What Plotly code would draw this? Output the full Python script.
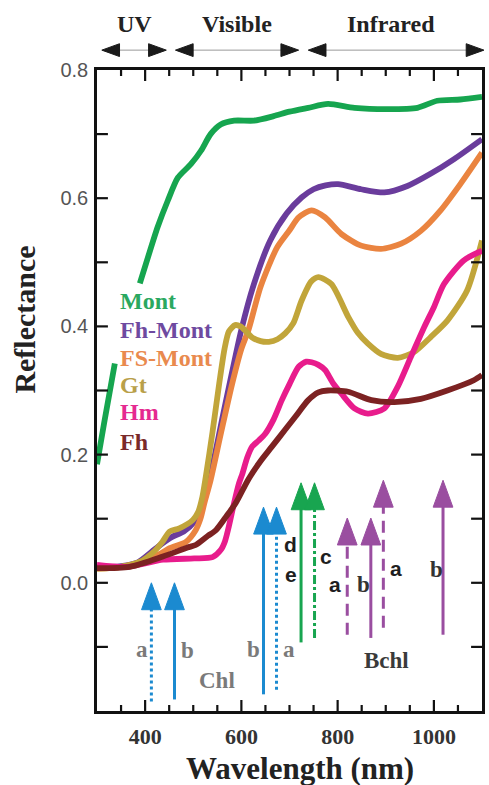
import plotly.graph_objects as go

# ---- Reflectance spectra (wavelength in nm, reflectance) ----
mont_wl = [300, 315, 337, 360, 389, 406, 426, 447, 468, 495, 516, 536, 557, 585, 626, 667, 700, 739, 780, 835, 904, 966, 1007, 1055, 1100]
mont_r = [0.185, 0.25, 0.342, None, 0.467, 0.508, 0.555, 0.596, 0.632, 0.653, 0.674, 0.700, 0.715, 0.721, 0.721, 0.728, 0.735, 0.741, 0.747, 0.741, 0.739, 0.741, 0.752, 0.754, 0.758]

fhmont_wl = [300, 350, 385, 413, 433, 457, 480, 502, 516, 530, 545, 560, 574, 600, 626, 660, 694, 725, 750, 775, 801, 849, 897, 945, 993, 1042, 1100]
fhmont_r = [0.023, 0.026, 0.032, 0.048, 0.060, 0.072, 0.080, 0.095, 0.115, 0.150, 0.200, 0.255, 0.305, 0.395, 0.466, 0.534, 0.576, 0.601, 0.614, 0.620, 0.622, 0.614, 0.609, 0.619, 0.638, 0.661, 0.692]

fsmont_wl = [300, 350, 385, 433, 451, 485, 505, 515, 523, 536, 558, 581, 600, 615, 640, 674, 700, 719, 746, 774, 808, 849, 890, 932, 973, 1014, 1055, 1100]
fsmont_r = [0.022, 0.025, 0.031, 0.046, 0.054, 0.064, 0.082, 0.100, 0.124, 0.160, 0.235, 0.311, 0.365, 0.395, 0.462, 0.523, 0.550, 0.570, 0.581, 0.570, 0.544, 0.526, 0.521, 0.529, 0.549, 0.581, 0.622, 0.671]

gt_wl = [300, 350, 390, 420, 436, 451, 471, 499, 510, 519, 526, 540, 554, 565, 574, 587, 598, 610, 622, 640, 657, 675, 691, 708, 725, 745, 760, 787, 822, 842, 863, 890, 925, 959, 993, 1028, 1069, 1100]
gt_r = [0.022, 0.025, 0.033, 0.050, 0.064, 0.080, 0.085, 0.098, 0.110, 0.134, 0.165, 0.235, 0.311, 0.365, 0.392, 0.402, 0.400, 0.392, 0.383, 0.377, 0.376, 0.380, 0.389, 0.405, 0.440, 0.470, 0.477, 0.466, 0.415, 0.390, 0.373, 0.357, 0.351, 0.360, 0.383, 0.409, 0.456, 0.534]

hm_wl = [300, 364, 437, 502, 540, 557, 566, 574, 585, 595, 602, 612, 622, 636, 650, 667, 684, 700, 719, 735, 746, 760, 774, 790, 808, 835, 863, 897, 925, 952, 980, 1000, 1021, 1062, 1100]
hm_r = [0.028, 0.025, 0.036, 0.038, 0.040, 0.051, 0.065, 0.088, 0.125, 0.155, 0.170, 0.195, 0.212, 0.222, 0.233, 0.255, 0.285, 0.310, 0.337, 0.345, 0.344, 0.340, 0.332, 0.312, 0.295, 0.272, 0.264, 0.272, 0.306, 0.352, 0.399, 0.430, 0.466, 0.503, 0.518]

fh_wl = [300, 368, 437, 488, 505, 530, 547, 570, 588, 615, 640, 663, 690, 712, 739, 760, 780, 822, 870, 918, 973, 1028, 1083, 1100]
fh_r = [0.023, 0.025, 0.041, 0.055, 0.059, 0.073, 0.082, 0.105, 0.124, 0.162, 0.190, 0.212, 0.238, 0.259, 0.285, 0.297, 0.300, 0.298, 0.285, 0.282, 0.287, 0.300, 0.316, 0.324]

series_names = ["Mont", "Fh-Mont", "FS-Mont", "Gt", "Hm", "Fh"]
series_wl = [mont_wl, fhmont_wl, fsmont_wl, gt_wl, hm_wl, fh_wl]
series_r = [mont_r, fhmont_r, fsmont_r, gt_r, hm_r, fh_r]
series_colors = ["#16a54f", "#6a3c9c", "#ea8440", "#c1a53a", "#e81c8c", "#7c2222"]
label_colors = ["#2aa860", "#6e4aa0", "#e98a4e", "#b9a04a", "#e52a90", "#7a2a2a"]
label_y = [0.440, 0.394, 0.350, 0.308, 0.266, 0.219]

# ---- Pigment absorption bands: wavelength, arrow tip, arrow tail ----
band_wl = [413, 461, 646, 673, 724, 752, 820, 869, 895, 1019]
band_tip = [0.0, 0.0, 0.118, 0.118, 0.156, 0.156, 0.101, 0.101, 0.160, 0.160]
band_tail = [-0.185, -0.182, -0.174, -0.167, -0.093, -0.086, -0.081, -0.086, -0.070, -0.081]
band_color = ["#1b8ad0", "#1b8ad0", "#1b8ad0", "#1b8ad0", "#18a550", "#18a550",
              "#9a4ea0", "#9a4ea0", "#9a4ea0", "#9a4ea0"]
band_dash = ["dot", "solid", "solid", "dot", "solid", "dashdot", "12px,7px", "solid", "12px,7px", "solid"]

# Band letters: text, wavelength, reflectance, style
band_text = ["a", "b", "b", "a", "Chl", "d", "e", "c", "a", "b", "a", "b", "Bchl"]
band_text_wl = [393, 488, 626, 699, 549, 703, 703, 775, 795, 853, 921, 1006, 901]
band_text_r = [-0.104, -0.106, -0.104, -0.104, -0.152, 0.060, 0.013, 0.041, -0.003, -0.003, 0.023, 0.020, -0.121]
band_text_serif = [True, True, True, True, True, False, False, False, False, True, False, True, True]
band_text_color = ["#7a7a7a", "#7a7a7a", "#7a7a7a", "#7a7a7a", "#7a7a7a", "#1e1e1e", "#1e1e1e",
                   "#1e1e1e", "#1e1e1e", "#333333", "#1e1e1e", "#333333", "#3a3a3a"]

# ---- Spectral regions above the plot ----
region_names = ["UV", "Visible", "Infrared"]
region_start = [310, 463, 739]
region_end = [444, 719, 1104]

# ---- Axis ticks ----
x_major_ticks = [400, 600, 800, 1000]
x_minor_ticks = [350, 450, 500, 550, 650, 700, 750, 850, 900, 950, 1050]
y_label_ticks = [0.0, 0.2, 0.4, 0.6, 0.8]
y_all_ticks = [-0.1, 0.0, 0.1, 0.2, 0.3, 0.4, 0.5, 0.6, 0.7]

X_MIN, X_MAX = 300, 1100
Y_MIN, Y_MAX = -0.2, 0.8
SERIF = "Liberation Serif"
SANS = "Liberation Sans"

W, H = 489, 785
M_L, M_R, M_T, M_B = 97, 4, 70, 74
PX_PER_NM = (W - M_L - M_R) / (X_MAX - X_MIN)
PX_PER_R = (H - M_T - M_B) / (Y_MAX - Y_MIN)

fig = go.Figure()

for name, wl, r, col in zip(series_names, series_wl, series_r, series_colors):
    fig.add_trace(go.Scatter(
        x=wl, y=r, mode="lines", name=name,
        line=dict(color=col, width=5.8, shape="spline", smoothing=0.7),
        connectgaps=False, showlegend=False, hoverinfo="skip"))

# Arrow heads: width/height expressed in axis units
head_half_w = 20.5   # nm
head_h = 0.042       # reflectance

for wl, tip, tail, col, dash in zip(band_wl, band_tip, band_tail, band_color, band_dash):
    fig.add_trace(go.Scatter(
        x=[wl, wl], y=[tail, tip - head_h + 0.002], mode="lines",
        line=dict(color=col, width=3, dash=dash),
        showlegend=False, hoverinfo="skip"))
    fig.add_trace(go.Scatter(
        x=[wl - head_half_w, wl + head_half_w, wl, wl - head_half_w],
        y=[tip - head_h, tip - head_h, tip, tip - head_h],
        mode="lines", fill="toself", fillcolor=col,
        line=dict(color=col, width=1),
        showlegend=False, hoverinfo="skip"))

# Inward tick marks on all four sides of the frame
def tick_segments():
    xs, ys = [], []
    for ticks, length_px in ((x_major_ticks, 11), (x_minor_ticks, 6)):
        dy = length_px / PX_PER_R
        for t in ticks:
            xs += [t, t, None, t, t, None]
            ys += [Y_MIN, Y_MIN + dy, None, Y_MAX, Y_MAX - dy, None]
    dx = 11 / PX_PER_NM
    for t in y_all_ticks:
        xs += [X_MIN, X_MIN + dx, None, X_MAX, X_MAX - dx, None]
        ys += [t, t, None, t, t, None]
    return xs, ys

tx, ty = tick_segments()
fig.add_trace(go.Scatter(x=tx, y=ty, mode="lines", line=dict(color="#111", width=2.2),
                         connectgaps=False, showlegend=False, hoverinfo="skip"))

annotations = []

# Series labels
for name, col, y in zip(series_names, label_colors, label_y):
    annotations.append(dict(
        x=343, y=y, xref="x", yref="y", text=name, showarrow=False,
        xanchor="left", yanchor="middle",
        font=dict(family=SERIF, size=24, color=col, weight="bold")))

# Band letters
for t, wl, r, serif, col in zip(band_text, band_text_wl, band_text_r, band_text_serif, band_text_color):
    annotations.append(dict(
        x=wl, y=r, xref="x", yref="y", text=t, showarrow=False,
        xanchor="center", yanchor="middle",
        font=dict(family=SERIF if serif else SANS, size=23 if serif else 21,
                  color=col, weight="bold")))

# Region headers and double arrows (paper coordinates)
def to_paper(wl):
    return (wl - X_MIN) / (X_MAX - X_MIN)

shapes = []
arrow_y = 1.031
ah_len = 0.046   # paper-x
ah_half = 0.010  # paper-y
for name, s, e in zip(region_names, region_start, region_end):
    ps, pe = to_paper(s), to_paper(e)
    annotations.append(dict(
        x=(ps + pe) / 2 - (0.012 if name == "Infrared" else 0.0), y=1.072,
        xref="paper", yref="paper", text=name, showarrow=False,
        xanchor="center", yanchor="middle",
        font=dict(family=SERIF, size=24, color="#222", weight="bold")))
    shapes.append(dict(type="line", xref="paper", yref="paper",
                       x0=ps + ah_len * 0.5, x1=pe - ah_len * 0.5, y0=arrow_y, y1=arrow_y,
                       line=dict(color="#9a9a9a", width=1)))
    shapes.append(dict(type="path", xref="paper", yref="paper",
                       path=f"M {ps} {arrow_y} L {ps + ah_len} {arrow_y + ah_half} L {ps + ah_len} {arrow_y - ah_half} Z",
                       fillcolor="#1a1a1a", line=dict(color="#1a1a1a", width=1)))
    shapes.append(dict(type="path", xref="paper", yref="paper",
                       path=f"M {pe} {arrow_y} L {pe - ah_len} {arrow_y + ah_half} L {pe - ah_len} {arrow_y - ah_half} Z",
                       fillcolor="#1a1a1a", line=dict(color="#1a1a1a", width=1)))

# Axis titles
annotations.append(dict(
    x=-0.188, y=0.61, xref="paper", yref="paper", text="Reflectance", showarrow=False,
    textangle=-90, xanchor="center", yanchor="middle",
    font=dict(family=SERIF, size=30, color="#222", weight="bold")))
annotations.append(dict(
    x=0.528, y=-0.089, xref="paper", yref="paper", text="Wavelength (nm)", showarrow=False,
    xanchor="center", yanchor="middle",
    font=dict(family=SERIF, size=31, color="#222", weight="bold")))

fig.update_layout(
    width=W, height=H,
    margin=dict(l=M_L, r=M_R, t=M_T, b=M_B),
    paper_bgcolor="white", plot_bgcolor="white",
    annotations=annotations, shapes=shapes,
    showlegend=False,
    xaxis=dict(
        range=[X_MIN, X_MAX], tickvals=x_major_ticks,
        showline=True, linewidth=2.5, linecolor="#111", mirror=True,
        showgrid=False, zeroline=False, ticklabelstandoff=4,
        tickfont=dict(family=SERIF, size=22, color="#333", weight="bold")),
    yaxis=dict(
        range=[Y_MIN, Y_MAX], tickvals=y_label_ticks, tickformat=".1f",
        showline=True, linewidth=2.5, linecolor="#111", mirror=True,
        showgrid=False, zeroline=False, ticklabelstandoff=2,
        tickfont=dict(family=SANS, size=20, color="#555")),
)

fig.write_html("out.html")
